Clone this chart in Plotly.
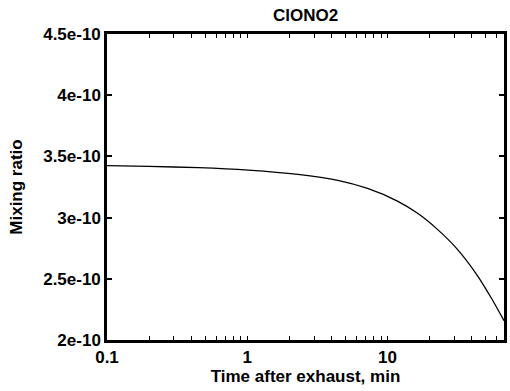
import plotly.graph_objects as go

# Data
time_min = [0.1, 0.199, 0.449, 1.016, 2.30, 4.42, 7.21, 11.77, 16.3, 22.6, 31.4, 43.5, 55.5, 67.7]
mixing_ratio = [3.424e-10, 3.418e-10, 3.408e-10, 3.388e-10, 3.353e-10, 3.304e-10, 3.238e-10,
                3.135e-10, 3.037e-10, 2.906e-10, 2.743e-10, 2.531e-10, 2.335e-10, 2.158e-10]

x_tickvals = [0.1, 0.2, 0.3, 0.4, 0.5, 0.6, 0.7, 0.8, 0.9,
              1, 2, 3, 4, 5, 6, 7, 8, 9,
              10, 20, 30, 40, 50, 60]
x_ticktext = ["0.1", "", "", "", "", "", "", "", "",
              "1", "", "", "", "", "", "", "", "",
              "10", "", "", "", "", ""]
y_tickvals = [2e-10, 2.5e-10, 3e-10, 3.5e-10, 4e-10, 4.5e-10]
y_ticktext = ["2e-10", "2.5e-10", "3e-10", "3.5e-10", "4e-10", "4.5e-10"]

FONT = "Liberation Sans"
tfont = dict(family=FONT, size=17, color="black", weight="bold")

fig = go.Figure()
fig.add_trace(go.Scatter(
    x=time_min, y=mixing_ratio, mode="lines",
    line=dict(color="black", width=1.3, shape="spline", smoothing=0.6),
    showlegend=False,
))

fig.update_layout(
    width=510, height=391,
    margin=dict(l=107, r=3, t=34, b=51),
    paper_bgcolor="white", plot_bgcolor="white",
    font=tfont,
    title=dict(text="ClONO2", x=0.5, xref="paper", xanchor="center",
               y=1, yref="container", yanchor="top", pad=dict(t=9), font=tfont),
    xaxis=dict(
        type="log", range=[-1, 1.8306],
        tickmode="array", tickvals=x_tickvals, ticktext=x_ticktext,
        ticks="inside", ticklen=4, tickwidth=1.4, tickcolor="black",
        showline=True, linewidth=2.5, linecolor="black", mirror="ticks",
        showgrid=False, zeroline=False, tickfont=tfont,
        title=dict(text="Time after exhaust, min", standoff=0, font=tfont),
    ),
    yaxis=dict(
        range=[2e-10, 4.5e-10],
        tickmode="array", tickvals=y_tickvals, ticktext=y_ticktext,
        ticks="inside", ticklen=5, tickwidth=1.5, tickcolor="black",
        showline=True, linewidth=2.5, linecolor="black", mirror="ticks",
        showgrid=False, zeroline=False, tickfont=tfont,
        title=dict(text="Mixing ratio", standoff=17, font=tfont),
    ),
)

fig.write_html("out.html")
